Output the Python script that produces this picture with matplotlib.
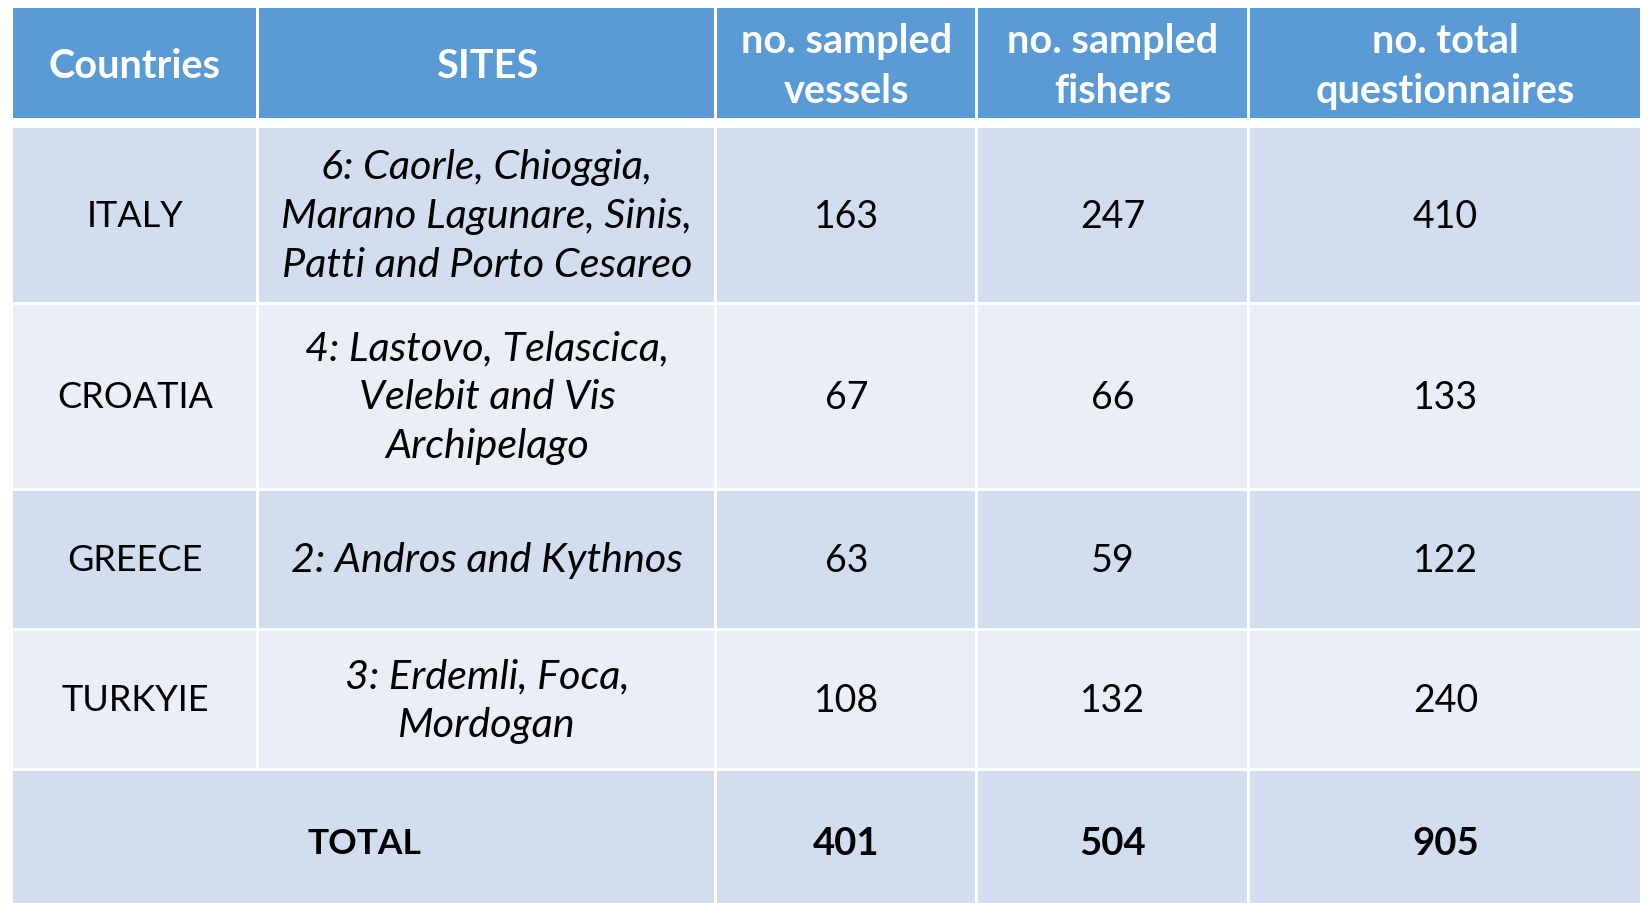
import matplotlib.pyplot as plt
from matplotlib.patches import Rectangle

plt.rcParams['font.family'] = ['Lato', 'DejaVu Sans']

# table content
headers = ["Countries", "SITES", "no. sampled\nvessels", "no. sampled\nfishers", "no. total\nquestionnaires"]
countries = ["ITALY", "CROATIA", "GREECE", "TURKYIE"]
sites = ["6: Caorle, Chioggia,\nMarano Lagunare, Sinis,\nPatti and Porto Cesareo",
         "4: Lastovo, Telascica,\nVelebit and Vis\nArchipelago",
         "2: Andros and Kythnos",
         "3: Erdemli, Foca,\nMordogan"]
vessels = [163, 67, 63, 108]
fishers = [247, 66, 59, 132]
questionnaires = [410, 133, 122, 240]
total_label = "TOTAL"

# layout (pixels)
W, H = 1649, 904
col_edges = [12, 258, 716, 977, 1249, 1642]
row_edges = [7, 120, 127, 304, 490, 630, 770, 904]
gap = 3
header_col = "#5B9BD5"
dark = "#D2DEEF"
light = "#E9EEF7"

fig = plt.figure(figsize=(W / 100, H / 100), dpi=100)
ax = fig.add_axes([0, 0, 1, 1])
ax.set_xlim(0, W)
ax.set_ylim(H, 0)
ax.axis('off')


def cell(x0, x1, y0, y1, color):
    ax.add_patch(Rectangle((x0 + gap / 2, y0 + gap / 2), x1 - x0 - gap, y1 - y0 - gap,
                           facecolor=color, edgecolor='none'))


def put(x0, x1, y0, y1, s, fs=26, dy=1, ls=1.4, **kw):
    ax.text((x0 + x1) / 2, (y0 + y1) / 2 + dy, s, ha='center', va='center',
            fontsize=fs, linespacing=ls, **kw)


# header row
for i, h in enumerate(headers):
    x0, x1 = col_edges[i], col_edges[i + 1]
    cell(x0, x1, row_edges[0], row_edges[1], header_col)
    put(x0, x1, row_edges[0], row_edges[1], h, fs=28.5, dy=3, ls=1.42,
        color='white', fontweight='bold')

# body rows
for r in range(len(countries)):
    y0, y1 = row_edges[r + 2], row_edges[r + 3]
    color = dark if r % 2 == 0 else light
    vals = [countries[r], sites[r], str(vessels[r]), str(fishers[r]), str(questionnaires[r])]
    for i, v in enumerate(vals):
        x0, x1 = col_edges[i], col_edges[i + 1]
        cell(x0, x1, y0, y1, color)
        if i == 1:
            put(x0, x1, y0, y1, v, fs=29.8, ls=1.4, style='italic', color='black')
        elif i == 0:
            put(x0, x1, y0, y1, v, fs=26, color='black')
        else:
            put(x0, x1, y0, y1, v, fs=27, color='black')

# total row
y0, y1 = row_edges[6], row_edges[7] + 10
cell(col_edges[0], col_edges[2], y0, y1, dark)
put(col_edges[0], col_edges[2], y0, 910, total_label, fs=25.5, dy=4, fontweight='bold')
for i, v in enumerate([sum(vessels), sum(fishers), sum(questionnaires)]):
    x0, x1 = col_edges[i + 2], col_edges[i + 3]
    cell(x0, x1, y0, y1, dark)
    put(x0, x1, y0, 910, str(v), fs=27.5, dy=4, fontweight='bold')

plt.savefig('out.png', dpi=100)
